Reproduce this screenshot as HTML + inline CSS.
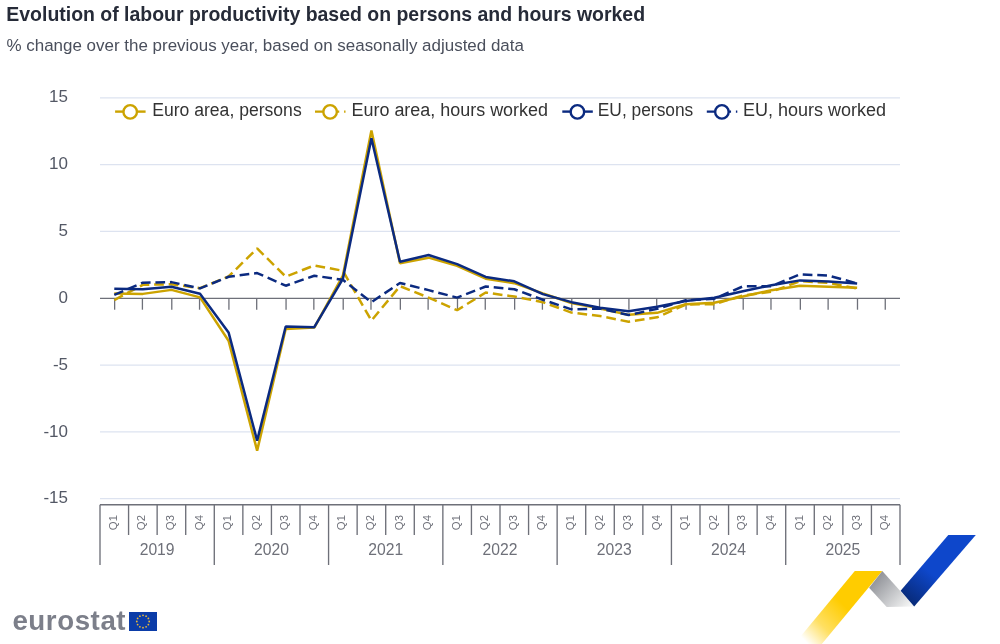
<!DOCTYPE html>
<html lang="en"><head><meta charset="utf-8"><title>Evolution of labour productivity</title>
<style>
html,body{margin:0;padding:0;background:#fff;}
body{width:1000px;height:644px;overflow:hidden;position:relative;font-family:"Liberation Sans",sans-serif;}
svg{position:absolute;left:0;top:0;display:block;}
text{font-family:"Liberation Sans",sans-serif;}
</style></head><body>
<svg width="1000" height="644" viewBox="0 0 1000 644">
<defs>
<linearGradient id="gy" x1="884" y1="571" x2="808" y2="644" gradientUnits="userSpaceOnUse"><stop offset="0" stop-color="#FFCC00"/><stop offset="0.5" stop-color="#FFCC00"/><stop offset="0.78" stop-color="#FFCC00" stop-opacity="0.62"/><stop offset="1" stop-color="#FFCC00" stop-opacity="0"/></linearGradient>
<linearGradient id="gg" x1="872" y1="580" x2="905" y2="610" gradientUnits="userSpaceOnUse"><stop offset="0" stop-color="#8E9096"/><stop offset="1" stop-color="#F2F3F3"/></linearGradient>
<linearGradient id="gb" x1="960" y1="540" x2="910" y2="602" gradientUnits="userSpaceOnUse"><stop offset="0" stop-color="#0E47CB"/><stop offset="0.55" stop-color="#0E47CB"/><stop offset="1" stop-color="#082B7A"/></linearGradient>
</defs>

<text x="6.3" y="20.9" font-size="19.47" font-weight="bold" fill="#262B38">Evolution of labour productivity based on persons and hours worked</text>
<text x="6.5" y="50.6" font-size="16.97" fill="#4A4F5C">% change over the previous year, based on seasonally adjusted data</text>
<line x1="100" x2="900" y1="97.8" y2="97.8" stroke="#DDE3F0" stroke-width="1.3"/>
<line x1="100" x2="900" y1="164.6" y2="164.6" stroke="#DDE3F0" stroke-width="1.3"/>
<line x1="100" x2="900" y1="231.4" y2="231.4" stroke="#DDE3F0" stroke-width="1.3"/>
<line x1="100" x2="900" y1="365.1" y2="365.1" stroke="#DDE3F0" stroke-width="1.3"/>
<line x1="100" x2="900" y1="431.9" y2="431.9" stroke="#DDE3F0" stroke-width="1.3"/>
<line x1="100" x2="900" y1="498.7" y2="498.7" stroke="#DDE3F0" stroke-width="1.3"/>
<text x="68" y="102.3" font-size="17" fill="#535865" text-anchor="end">15</text>
<text x="68" y="169.2" font-size="17" fill="#535865" text-anchor="end">10</text>
<text x="68" y="236.0" font-size="17" fill="#535865" text-anchor="end">5</text>
<text x="68" y="302.8" font-size="17" fill="#535865" text-anchor="end">0</text>
<text x="68" y="369.7" font-size="17" fill="#535865" text-anchor="end">-5</text>
<text x="68" y="436.5" font-size="17" fill="#535865" text-anchor="end">-10</text>
<text x="68" y="503.3" font-size="17" fill="#535865" text-anchor="end">-15</text>
<line x1="100" x2="900" y1="298.3" y2="298.3" stroke="#6E7079" stroke-width="1.2"/>
<line x1="114.64" x2="114.64" y1="298.3" y2="309.7" stroke="#6E7079" stroke-width="1.3"/>
<line x1="142.41" x2="142.41" y1="298.3" y2="309.7" stroke="#6E7079" stroke-width="1.3"/>
<line x1="171.78" x2="171.78" y1="298.3" y2="309.7" stroke="#6E7079" stroke-width="1.3"/>
<line x1="199.55" x2="199.55" y1="298.3" y2="309.7" stroke="#6E7079" stroke-width="1.3"/>
<line x1="228.92" x2="228.92" y1="298.3" y2="309.7" stroke="#6E7079" stroke-width="1.3"/>
<line x1="256.69" x2="256.69" y1="298.3" y2="309.7" stroke="#6E7079" stroke-width="1.3"/>
<line x1="286.06" x2="286.06" y1="298.3" y2="309.7" stroke="#6E7079" stroke-width="1.3"/>
<line x1="313.84" x2="313.84" y1="298.3" y2="309.7" stroke="#6E7079" stroke-width="1.3"/>
<line x1="343.21" x2="343.21" y1="298.3" y2="309.7" stroke="#6E7079" stroke-width="1.3"/>
<line x1="370.98" x2="370.98" y1="298.3" y2="309.7" stroke="#6E7079" stroke-width="1.3"/>
<line x1="400.35" x2="400.35" y1="298.3" y2="309.7" stroke="#6E7079" stroke-width="1.3"/>
<line x1="428.12" x2="428.12" y1="298.3" y2="309.7" stroke="#6E7079" stroke-width="1.3"/>
<line x1="457.49" x2="457.49" y1="298.3" y2="309.7" stroke="#6E7079" stroke-width="1.3"/>
<line x1="485.26" x2="485.26" y1="298.3" y2="309.7" stroke="#6E7079" stroke-width="1.3"/>
<line x1="514.64" x2="514.64" y1="298.3" y2="309.7" stroke="#6E7079" stroke-width="1.3"/>
<line x1="542.41" x2="542.41" y1="298.3" y2="309.7" stroke="#6E7079" stroke-width="1.3"/>
<line x1="571.78" x2="571.78" y1="298.3" y2="309.7" stroke="#6E7079" stroke-width="1.3"/>
<line x1="599.55" x2="599.55" y1="298.3" y2="309.7" stroke="#6E7079" stroke-width="1.3"/>
<line x1="628.92" x2="628.92" y1="298.3" y2="309.7" stroke="#6E7079" stroke-width="1.3"/>
<line x1="656.69" x2="656.69" y1="298.3" y2="309.7" stroke="#6E7079" stroke-width="1.3"/>
<line x1="686.06" x2="686.06" y1="298.3" y2="309.7" stroke="#6E7079" stroke-width="1.3"/>
<line x1="713.84" x2="713.84" y1="298.3" y2="309.7" stroke="#6E7079" stroke-width="1.3"/>
<line x1="743.21" x2="743.21" y1="298.3" y2="309.7" stroke="#6E7079" stroke-width="1.3"/>
<line x1="770.98" x2="770.98" y1="298.3" y2="309.7" stroke="#6E7079" stroke-width="1.3"/>
<line x1="800.35" x2="800.35" y1="298.3" y2="309.7" stroke="#6E7079" stroke-width="1.3"/>
<line x1="828.12" x2="828.12" y1="298.3" y2="309.7" stroke="#6E7079" stroke-width="1.3"/>
<line x1="857.49" x2="857.49" y1="298.3" y2="309.7" stroke="#6E7079" stroke-width="1.3"/>
<line x1="885.26" x2="885.26" y1="298.3" y2="309.7" stroke="#6E7079" stroke-width="1.3"/>
<path d="M114.29 293.62 L142.86 293.88 L171.43 289.87 L200.00 297.36 L228.57 340.79 L257.14 450.64 L285.71 329.03 L314.29 327.56 L342.86 275.71 L371.43 130.44 L400.00 263.15 L428.57 257.67 L457.14 265.82 L485.71 278.65 L514.29 283.19 L542.86 293.35 L571.43 302.97 L600.00 308.58 L628.57 314.87 L657.14 312.86 L685.71 304.31 L714.29 302.70 L742.86 296.56 L771.43 290.14 L800.00 285.73 L828.57 286.67 L857.14 287.87" fill="none" stroke="#CCA300" stroke-width="2.5" stroke-linejoin="bevel"/>
<path d="M114.29 300.03 L142.86 284.80 L171.43 284.26 L200.00 288.14 L228.57 276.51 L257.14 248.45 L285.71 276.64 L314.29 265.42 L342.86 270.76 L371.43 320.61 L400.00 286.13 L428.57 297.63 L457.14 310.19 L485.71 292.55 L514.29 296.56 L542.86 302.17 L571.43 312.59 L600.00 316.07 L628.57 321.68 L657.14 317.27 L685.71 304.57 L714.29 304.17 L742.86 295.49 L771.43 291.75 L800.00 281.19 L828.57 282.79 L857.14 288.54" fill="none" stroke="#CCA300" stroke-width="2.5" stroke-dasharray="9.7 4.85" stroke-linejoin="bevel"/>
<path d="M114.29 288.81 L142.86 289.21 L171.43 286.80 L200.00 293.75 L228.57 332.44 L257.14 440.62 L285.71 326.49 L314.29 327.16 L342.86 278.92 L371.43 138.19 L400.00 261.81 L428.57 254.99 L457.14 264.08 L485.71 276.91 L514.29 281.32 L542.86 294.15 L571.43 302.17 L600.00 307.78 L628.57 311.26 L657.14 306.85 L685.71 301.10 L714.29 297.76 L742.86 291.34 L771.43 285.20 L800.00 280.39 L828.57 281.59 L857.14 283.46" fill="none" stroke="#0B2A80" stroke-width="2.5" stroke-linejoin="bevel"/>
<path d="M114.29 294.95 L142.86 282.66 L171.43 282.12 L200.00 288.40 L228.57 276.78 L257.14 273.04 L285.71 285.73 L314.29 275.71 L342.86 279.85 L371.43 302.17 L400.00 282.93 L428.57 290.14 L457.14 297.63 L485.71 286.53 L514.29 289.21 L542.86 299.76 L571.43 309.39 L600.00 308.58 L628.57 315.00 L657.14 308.85 L685.71 300.30 L714.29 298.69 L742.86 286.40 L771.43 286.13 L800.00 274.37 L828.57 275.57 L857.14 283.46" fill="none" stroke="#0B2A80" stroke-width="2.5" stroke-dasharray="9.7 4.85" stroke-linejoin="bevel"/>
<line x1="115.1" x2="145.6" y1="111.6" y2="111.6" stroke="#CCA300" stroke-width="2.4"/><circle cx="130.2" cy="111.9" r="6.75" fill="#fff" stroke="#CCA300" stroke-width="2.4"/><text x="152.2" y="116.2" font-size="18" fill="#333" textLength="149.5" lengthAdjust="spacingAndGlyphs">Euro area, persons</text>
<line x1="315" x2="345.5" y1="111.6" y2="111.6" stroke="#CCA300" stroke-width="2.4" stroke-dasharray="9.7 4.85"/><circle cx="330.1" cy="111.9" r="6.75" fill="#fff" stroke="#CCA300" stroke-width="2.4"/><text x="351.5" y="116.2" font-size="18" fill="#333" textLength="196.5" lengthAdjust="spacingAndGlyphs">Euro area, hours worked</text>
<line x1="562.3" x2="592.8" y1="111.6" y2="111.6" stroke="#0B2A80" stroke-width="2.4"/><circle cx="577.4" cy="111.9" r="6.75" fill="#fff" stroke="#0B2A80" stroke-width="2.4"/><text x="597.8" y="116.2" font-size="18" fill="#333" textLength="95.5" lengthAdjust="spacingAndGlyphs">EU, persons</text>
<line x1="706.8" x2="737.3" y1="111.6" y2="111.6" stroke="#0B2A80" stroke-width="2.4" stroke-dasharray="9.7 4.85"/><circle cx="721.9" cy="111.9" r="6.75" fill="#fff" stroke="#0B2A80" stroke-width="2.4"/><text x="743" y="116.2" font-size="18" fill="#333" textLength="143" lengthAdjust="spacingAndGlyphs">EU, hours worked</text>
<line x1="100" x2="900" y1="504.8" y2="504.8" stroke="#6E7079" stroke-width="1.4"/>
<line x1="100.00" x2="100.00" y1="504.8" y2="565" stroke="#6E7079" stroke-width="1.35"/>
<line x1="128.57" x2="128.57" y1="504.8" y2="535" stroke="#6E7079" stroke-width="1.35"/>
<line x1="157.14" x2="157.14" y1="504.8" y2="535" stroke="#6E7079" stroke-width="1.35"/>
<line x1="185.71" x2="185.71" y1="504.8" y2="535" stroke="#6E7079" stroke-width="1.35"/>
<line x1="214.29" x2="214.29" y1="504.8" y2="565" stroke="#6E7079" stroke-width="1.35"/>
<line x1="242.86" x2="242.86" y1="504.8" y2="535" stroke="#6E7079" stroke-width="1.35"/>
<line x1="271.43" x2="271.43" y1="504.8" y2="535" stroke="#6E7079" stroke-width="1.35"/>
<line x1="300.00" x2="300.00" y1="504.8" y2="535" stroke="#6E7079" stroke-width="1.35"/>
<line x1="328.57" x2="328.57" y1="504.8" y2="565" stroke="#6E7079" stroke-width="1.35"/>
<line x1="357.14" x2="357.14" y1="504.8" y2="535" stroke="#6E7079" stroke-width="1.35"/>
<line x1="385.71" x2="385.71" y1="504.8" y2="535" stroke="#6E7079" stroke-width="1.35"/>
<line x1="414.29" x2="414.29" y1="504.8" y2="535" stroke="#6E7079" stroke-width="1.35"/>
<line x1="442.86" x2="442.86" y1="504.8" y2="565" stroke="#6E7079" stroke-width="1.35"/>
<line x1="471.43" x2="471.43" y1="504.8" y2="535" stroke="#6E7079" stroke-width="1.35"/>
<line x1="500.00" x2="500.00" y1="504.8" y2="535" stroke="#6E7079" stroke-width="1.35"/>
<line x1="528.57" x2="528.57" y1="504.8" y2="535" stroke="#6E7079" stroke-width="1.35"/>
<line x1="557.14" x2="557.14" y1="504.8" y2="565" stroke="#6E7079" stroke-width="1.35"/>
<line x1="585.71" x2="585.71" y1="504.8" y2="535" stroke="#6E7079" stroke-width="1.35"/>
<line x1="614.29" x2="614.29" y1="504.8" y2="535" stroke="#6E7079" stroke-width="1.35"/>
<line x1="642.86" x2="642.86" y1="504.8" y2="535" stroke="#6E7079" stroke-width="1.35"/>
<line x1="671.43" x2="671.43" y1="504.8" y2="565" stroke="#6E7079" stroke-width="1.35"/>
<line x1="700.00" x2="700.00" y1="504.8" y2="535" stroke="#6E7079" stroke-width="1.35"/>
<line x1="728.57" x2="728.57" y1="504.8" y2="535" stroke="#6E7079" stroke-width="1.35"/>
<line x1="757.14" x2="757.14" y1="504.8" y2="535" stroke="#6E7079" stroke-width="1.35"/>
<line x1="785.71" x2="785.71" y1="504.8" y2="565" stroke="#6E7079" stroke-width="1.35"/>
<line x1="814.29" x2="814.29" y1="504.8" y2="535" stroke="#6E7079" stroke-width="1.35"/>
<line x1="842.86" x2="842.86" y1="504.8" y2="535" stroke="#6E7079" stroke-width="1.35"/>
<line x1="871.43" x2="871.43" y1="504.8" y2="535" stroke="#6E7079" stroke-width="1.35"/>
<line x1="900.00" x2="900.00" y1="504.8" y2="565" stroke="#6E7079" stroke-width="1.35"/>
<text transform="translate(116.79 522.6) rotate(-90)" font-size="11.3" fill="#6E7079" text-anchor="middle">Q1</text>
<text transform="translate(145.36 522.6) rotate(-90)" font-size="11.3" fill="#6E7079" text-anchor="middle">Q2</text>
<text transform="translate(173.93 522.6) rotate(-90)" font-size="11.3" fill="#6E7079" text-anchor="middle">Q3</text>
<text transform="translate(202.50 522.6) rotate(-90)" font-size="11.3" fill="#6E7079" text-anchor="middle">Q4</text>
<text transform="translate(231.07 522.6) rotate(-90)" font-size="11.3" fill="#6E7079" text-anchor="middle">Q1</text>
<text transform="translate(259.64 522.6) rotate(-90)" font-size="11.3" fill="#6E7079" text-anchor="middle">Q2</text>
<text transform="translate(288.21 522.6) rotate(-90)" font-size="11.3" fill="#6E7079" text-anchor="middle">Q3</text>
<text transform="translate(316.79 522.6) rotate(-90)" font-size="11.3" fill="#6E7079" text-anchor="middle">Q4</text>
<text transform="translate(345.36 522.6) rotate(-90)" font-size="11.3" fill="#6E7079" text-anchor="middle">Q1</text>
<text transform="translate(373.93 522.6) rotate(-90)" font-size="11.3" fill="#6E7079" text-anchor="middle">Q2</text>
<text transform="translate(402.50 522.6) rotate(-90)" font-size="11.3" fill="#6E7079" text-anchor="middle">Q3</text>
<text transform="translate(431.07 522.6) rotate(-90)" font-size="11.3" fill="#6E7079" text-anchor="middle">Q4</text>
<text transform="translate(459.64 522.6) rotate(-90)" font-size="11.3" fill="#6E7079" text-anchor="middle">Q1</text>
<text transform="translate(488.21 522.6) rotate(-90)" font-size="11.3" fill="#6E7079" text-anchor="middle">Q2</text>
<text transform="translate(516.79 522.6) rotate(-90)" font-size="11.3" fill="#6E7079" text-anchor="middle">Q3</text>
<text transform="translate(545.36 522.6) rotate(-90)" font-size="11.3" fill="#6E7079" text-anchor="middle">Q4</text>
<text transform="translate(573.93 522.6) rotate(-90)" font-size="11.3" fill="#6E7079" text-anchor="middle">Q1</text>
<text transform="translate(602.50 522.6) rotate(-90)" font-size="11.3" fill="#6E7079" text-anchor="middle">Q2</text>
<text transform="translate(631.07 522.6) rotate(-90)" font-size="11.3" fill="#6E7079" text-anchor="middle">Q3</text>
<text transform="translate(659.64 522.6) rotate(-90)" font-size="11.3" fill="#6E7079" text-anchor="middle">Q4</text>
<text transform="translate(688.21 522.6) rotate(-90)" font-size="11.3" fill="#6E7079" text-anchor="middle">Q1</text>
<text transform="translate(716.79 522.6) rotate(-90)" font-size="11.3" fill="#6E7079" text-anchor="middle">Q2</text>
<text transform="translate(745.36 522.6) rotate(-90)" font-size="11.3" fill="#6E7079" text-anchor="middle">Q3</text>
<text transform="translate(773.93 522.6) rotate(-90)" font-size="11.3" fill="#6E7079" text-anchor="middle">Q4</text>
<text transform="translate(802.50 522.6) rotate(-90)" font-size="11.3" fill="#6E7079" text-anchor="middle">Q1</text>
<text transform="translate(831.07 522.6) rotate(-90)" font-size="11.3" fill="#6E7079" text-anchor="middle">Q2</text>
<text transform="translate(859.64 522.6) rotate(-90)" font-size="11.3" fill="#6E7079" text-anchor="middle">Q3</text>
<text transform="translate(888.21 522.6) rotate(-90)" font-size="11.3" fill="#6E7079" text-anchor="middle">Q4</text>
<text x="157.14" y="554.8" font-size="15.7" fill="#6E7079" text-anchor="middle">2019</text>
<text x="271.43" y="554.8" font-size="15.7" fill="#6E7079" text-anchor="middle">2020</text>
<text x="385.71" y="554.8" font-size="15.7" fill="#6E7079" text-anchor="middle">2021</text>
<text x="500.00" y="554.8" font-size="15.7" fill="#6E7079" text-anchor="middle">2022</text>
<text x="614.29" y="554.8" font-size="15.7" fill="#6E7079" text-anchor="middle">2023</text>
<text x="728.57" y="554.8" font-size="15.7" fill="#6E7079" text-anchor="middle">2024</text>
<text x="842.86" y="554.8" font-size="15.7" fill="#6E7079" text-anchor="middle">2025</text>
<polygon points="854.8,571 882.3,571 821.8,644 794.3,644" fill="url(#gy)"/>
<polygon points="882.3,571 914.2,606.4 886.7,606.9 869.1,587.8" fill="url(#gg)"/>
<polygon points="948.3,535 975.8,535 914.2,606.4 900.6,590.8" fill="url(#gb)"/>
<text x="12.4" y="630.3" font-size="27.7" font-weight="bold" fill="#7C7F8A" textLength="113.2" lengthAdjust="spacing">eurostat</text>
<rect x="129" y="612" width="28" height="19" fill="#0B3CA8"/>
<circle cx="143.00" cy="615.30" r="0.9" fill="#E8B93A"/>
<circle cx="146.10" cy="616.13" r="0.9" fill="#E8B93A"/>
<circle cx="148.37" cy="618.40" r="0.9" fill="#E8B93A"/>
<circle cx="149.20" cy="621.50" r="0.9" fill="#E8B93A"/>
<circle cx="148.37" cy="624.60" r="0.9" fill="#E8B93A"/>
<circle cx="146.10" cy="626.87" r="0.9" fill="#E8B93A"/>
<circle cx="143.00" cy="627.70" r="0.9" fill="#E8B93A"/>
<circle cx="139.90" cy="626.87" r="0.9" fill="#E8B93A"/>
<circle cx="137.63" cy="624.60" r="0.9" fill="#E8B93A"/>
<circle cx="136.80" cy="621.50" r="0.9" fill="#E8B93A"/>
<circle cx="137.63" cy="618.40" r="0.9" fill="#E8B93A"/>
<circle cx="139.90" cy="616.13" r="0.9" fill="#E8B93A"/>
</svg></body></html>
